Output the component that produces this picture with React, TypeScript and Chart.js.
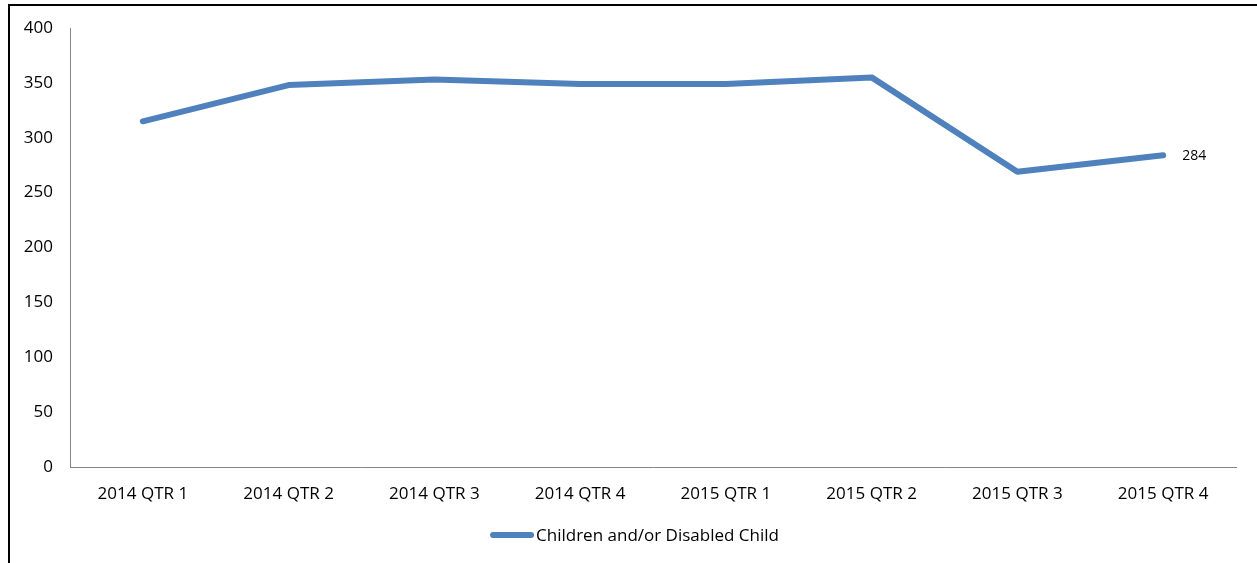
import React, { useEffect, useRef } from "react";
import { Chart, registerables } from "chart.js";

Chart.register(...registerables);

const categories = [
  "2014 QTR 1",
  "2014 QTR 2",
  "2014 QTR 3",
  "2014 QTR 4",
  "2015 QTR 1",
  "2015 QTR 2",
  "2015 QTR 3",
  "2015 QTR 4",
];
const seriesName = "Children and/or Disabled Child";
const seriesValues = [315, 348, 353, 349, 349, 355, 269, 284];
const yTicks = [0, 50, 100, 150, 200, 250, 300, 350, 400];

const FONT = "'Open Sans', sans-serif";
const LINE_COLOR = "#4F81BD";

const lastLabelPlugin = {
  id: "lastLabel",
  afterDatasetsDraw(chart: any) {
    const meta = chart.getDatasetMeta(0);
    const idx = seriesValues.length - 1;
    const pt = meta.data[idx];
    if (!pt) return;
    const ctx = chart.ctx;
    ctx.save();
    ctx.font = `14px ${FONT}`;
    ctx.fillStyle = "#000";
    ctx.textAlign = "left";
    ctx.textBaseline = "middle";
    ctx.fillText(String(seriesValues[idx]), pt.x + 19, pt.y + 1);
    ctx.restore();
  },
};

const legendPlugin = {
  id: "bottomLegend",
  afterDraw(chart: any) {
    const ctx = chart.ctx;
    ctx.save();
    ctx.font = `17px ${FONT}`;
    const tw = ctx.measureText(seriesName).width;
    const sample = 44;
    const gap = 2;
    const total = sample + gap + tw;
    const x0 = chart.width / 2 + 1 - total / 2;
    const y = chart.chartArea.bottom + 68;
    ctx.strokeStyle = LINE_COLOR;
    ctx.lineWidth = 6;
    ctx.lineCap = "round";
    ctx.beginPath();
    ctx.moveTo(x0 + 3, y);
    ctx.lineTo(x0 + sample - 3, y);
    ctx.stroke();
    ctx.fillStyle = "#000";
    ctx.textAlign = "left";
    ctx.textBaseline = "middle";
    ctx.fillText(seriesName, x0 + sample + gap, y + 1);
    ctx.restore();
  },
};

export default function App() {
  const ref = useRef<HTMLCanvasElement>(null);
  useEffect(() => {
    if (!ref.current) return;
    const chart = new Chart(ref.current, {
      type: "line",
      data: {
        labels: categories,
        datasets: [
          {
            label: seriesName,
            data: seriesValues,
            borderColor: LINE_COLOR,
            backgroundColor: LINE_COLOR,
            borderWidth: 6,
            borderCapStyle: "round",
            borderJoinStyle: "round",
            pointRadius: 0,
            pointHoverRadius: 0,
            tension: 0,
            fill: false,
          },
        ],
      },
      options: {
        animation: false,
        responsive: false,
        maintainAspectRatio: false,
        layout: {
          autoPadding: false,
          padding: { top: 22, right: 21, left: 0, bottom: 48 },
        },
        plugins: {
          tooltip: { enabled: false },
          legend: { display: false },
        },
        scales: {
          x: {
            offset: true,
            grid: { display: false, drawTicks: false },
            border: { display: true, color: "#868686", width: 1 },
            ticks: {
              font: { family: FONT, size: 17 },
              color: "#000",
              padding: 17,
              maxRotation: 0,
            },
            afterFit(scale: any) {
              scale.height = 48;
            },
          },
          y: {
            min: 0,
            max: 400,
            grid: { display: false, drawTicks: false },
            border: { display: true, color: "#868686", width: 1 },
            afterBuildTicks(scale: any) {
              scale.ticks = yTicks.map((v) => ({ value: v }));
            },
            ticks: {
              font: { family: FONT, size: 17 },
              color: "#000",
              padding: 17,
            },
            afterFit(scale: any) {
              scale.width = 60;
              scale.paddingTop = 0;
              scale.paddingBottom = 0;
            },
          },
        },
      },
      plugins: [lastLabelPlugin, legendPlugin],
    });
    return () => chart.destroy();
  }, []);

  return (
    <div
      style={{
        position: "absolute",
        left: 8,
        top: 4,
        width: 1249,
        height: 559,
        borderLeft: "2px solid #000",
        borderTop: "2px solid #000",
        boxSizing: "border-box",
        background: "#fff",
      }}
    >
      <canvas ref={ref} width={1247} height={557} style={{ display: "block" }} />
    </div>
  );
}
